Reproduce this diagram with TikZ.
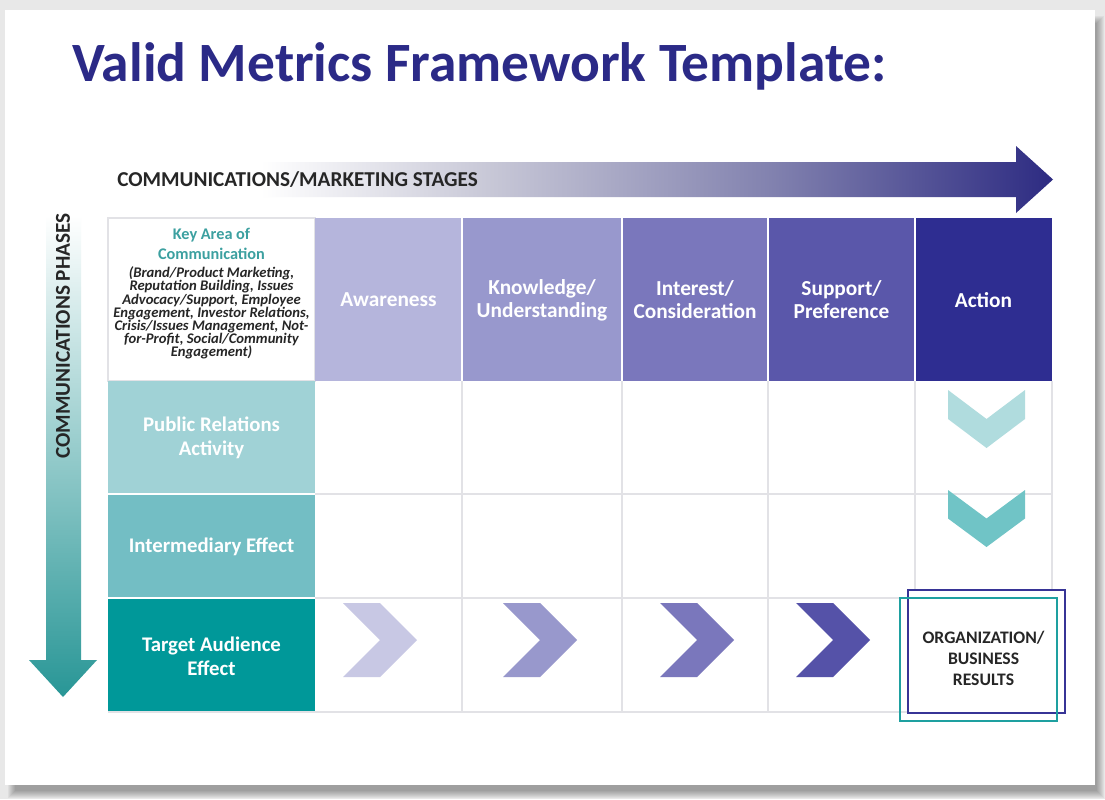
\documentclass[tikz,border=0pt]{standalone}
\usepackage{fontspec}
\setmainfont{Carlito}
\usetikzlibrary{calc}

% palette
\definecolor{titleblue}{RGB}{43,42,135}
\definecolor{stgA}{RGB}{181,181,220}
\definecolor{stgB}{RGB}{152,152,205}
\definecolor{stgC}{RGB}{122,119,188}
\definecolor{stgD}{RGB}{90,87,170}
\definecolor{stgE}{RGB}{46,45,145}
\definecolor{phA}{RGB}{160,210,214}
\definecolor{phB}{RGB}{115,190,196}
\definecolor{phC}{RGB}{0,152,153}
\definecolor{keyteal}{RGB}{60,160,160}
\definecolor{gridgray}{RGB}{226,226,230}
\definecolor{darktext}{RGB}{38,38,38}
\definecolor{chevA}{RGB}{200,200,228}
\definecolor{chevB}{RGB}{152,152,204}
\definecolor{chevC}{RGB}{122,119,188}
\definecolor{chevD}{RGB}{85,82,168}
\definecolor{downA}{RGB}{176,220,222}
\definecolor{downB}{RGB}{112,196,198}
\definecolor{resnavy}{RGB}{55,52,150}
\definecolor{resteal}{RGB}{30,160,160}
\definecolor{arrnavy}{RGB}{45,43,130}
\definecolor{arrmidA}{RGB}{200,200,215}
\definecolor{arrmidB}{RGB}{130,130,175}
\definecolor{arrteal}{RGB}{40,150,150}
\definecolor{arrtealmid}{RGB}{165,208,208}
\definecolor{pagebg}{RGB}{232,232,232}

% left-to-right fade for the stages arrow (path spans 25bp..75bp)
\pgfdeclarehorizontalshading{stagefade}{100bp}{color(0bp)=(white); color(25bp)=(white); color(33bp)=(white); color(45bp)=(arrmidA); color(60bp)=(arrmidB); color(75bp)=(arrnavy); color(100bp)=(arrnavy)}

\tikzset{
  hdr/.style={text=white, font=\bfseries\fontsize{16}{17.25}\selectfont, align=center, inner sep=0pt},
  rowlbl/.style={text=white, font=\bfseries\fontsize{15.6}{18}\selectfont, align=center, inner sep=0pt},
  keyhead/.style={text=keyteal, font=\bfseries\fontsize{12.2}{15}\selectfont, align=center, inner sep=0pt},
  keybody/.style={text=darktext, font=\bfseries\itshape\fontsize{11}{9.9}\selectfont, align=center, inner sep=0pt},
  restext/.style={text=darktext, font=\bfseries\fontsize{13.2}{15.75}\selectfont, align=center, inner sep=0pt},
  axislbl/.style={text=darktext, font=\bfseries\fontsize{15.9}{18}\selectfont, inner sep=0pt},
  grid/.style={draw=gridgray, line width=0.8pt},
  sep/.style={draw=white, line width=0.8pt}
}

\begin{document}
\begin{tikzpicture}[x=0.75pt, y=-0.75pt]
\useasboundingbox (0,0) rectangle (1105,799);

% slide with soft drop shadow
\fill[pagebg] (0,0) rectangle (1105,799);
\foreach \i in {0,...,7}
  \fill[black, opacity=0.045] (8+\i,16+\i) rectangle (1104-\i,798-\i);
\fill[white] (5,10) rectangle (1095,785);

% title
\node[anchor=base west, inner sep=0pt, text=titleblue,
      font=\bfseries\fontsize{41.6}{49}\selectfont] (title) at (72,81)
      {Valid Metrics Framework Template:};

% stages arrow
\shade[shading=stagefade] (110,162) -- (1016,162) -- (1016,146) -- (1053,179.5)
      -- (1016,213) -- (1016,197) -- (110,197) -- cycle;
\node[axislbl, anchor=west] (stages) at (117,180) {COMMUNICATIONS/MARKETING STAGES};

% phases arrow
\shade[top color=white, middle color=arrtealmid, bottom color=arrteal]
      (46,215) -- (81,215) -- (81,660) -- (97,660) -- (63,697) -- (29,660)
      -- (46,660) -- cycle;
\node[axislbl, rotate=90] (phases) at (63,336) {COMMUNICATIONS PHASES};

% header row
\draw[grid] (108,218) rectangle (315,381);
\fill[stgA] (315,218) rectangle (462,381);
\fill[stgB] (462,218) rectangle (622,381);
\fill[stgC] (622,218) rectangle (768,381);
\fill[stgD] (768,218) rectangle (915,381);
\fill[stgE] (915,218) rectangle (1052,381);
\foreach \x in {462,622,768,915} \draw[sep] (\x,218) -- (\x,381);

\node[keyhead] (keyarea) at (211.5,244) {Key Area of\\Communication};
\node[keybody] (keylist) at (211.5,313)
  {(Brand/Product Marketing,\\Reputation Building, Issues\\Advocacy/Support, Employee\\
   Engagement, Investor Relations,\\Crisis/Issues Management, Not-\\
   for-Profit, Social/Community\\Engagement)};

\node[hdr] (aware) at (388.5,300) {Awareness};
\node[hdr] (know)  at (542,300)   {Knowledge/\\Understanding};
\node[hdr] (inter) at (695,300)   {Interest/\\Consideration};
\node[hdr] (supp)  at (841.5,300) {Support/\\Preference};
\node[hdr] (act)   at (983.5,300) {Action};

% phase rows
\fill[phA] (108,381) rectangle (315,494);
\fill[phB] (108,494) rectangle (315,598);
\fill[phC] (108,598) rectangle (315,712);
\draw[sep] (108,494) -- (315,494) (108,598) -- (315,598);

\node[rowlbl] (pra)  at (211.5,438) {Public Relations\\Activity};
\node[rowlbl] (imed) at (211.5,547) {Intermediary Effect};
\node[rowlbl] (tae)  at (211.5,656) {Target Audience\\Effect};

% grid of the body cells
\draw[grid] (315,494) -- (1052,494) (315,598) -- (1052,598) (108,712) -- (1052,712);
\foreach \x in {462,622,768,915,1052} \draw[grid] (\x,381) -- (\x,712);

% progress chevrons along the target audience row
\foreach \L/\c in {343/chevA, 503/chevB, 660/chevC, 796/chevD}
  \fill[\c] (\L,603) -- ++(37,0) -- ++(37,37) -- ++(-37,37) -- ++(-37,0)
           -- ++(37,-37) -- cycle;

% downward chevrons in the action column
\fill[downA] (948,390) -- (986.5,419) -- (1025,390) -- (1025,419) -- (986.5,448)
             -- (948,419) -- cycle;
\fill[downB] (948,490) -- (986.5,518.5) -- (1025,490) -- (1025,518.5)
             -- (986.5,547) -- (948,518.5) -- cycle;

% results frame
\fill[white] (908,590) rectangle (1065,713);
\draw[resnavy, line width=2.2pt] (908,590) rectangle (1065,713);
\draw[resteal, line width=2.2pt] (900,598) rectangle (1057,721);
\node[restext] (result) at (983.5,658) {ORGANIZATION/\\BUSINESS\\RESULTS};
\end{tikzpicture}
\end{document}
